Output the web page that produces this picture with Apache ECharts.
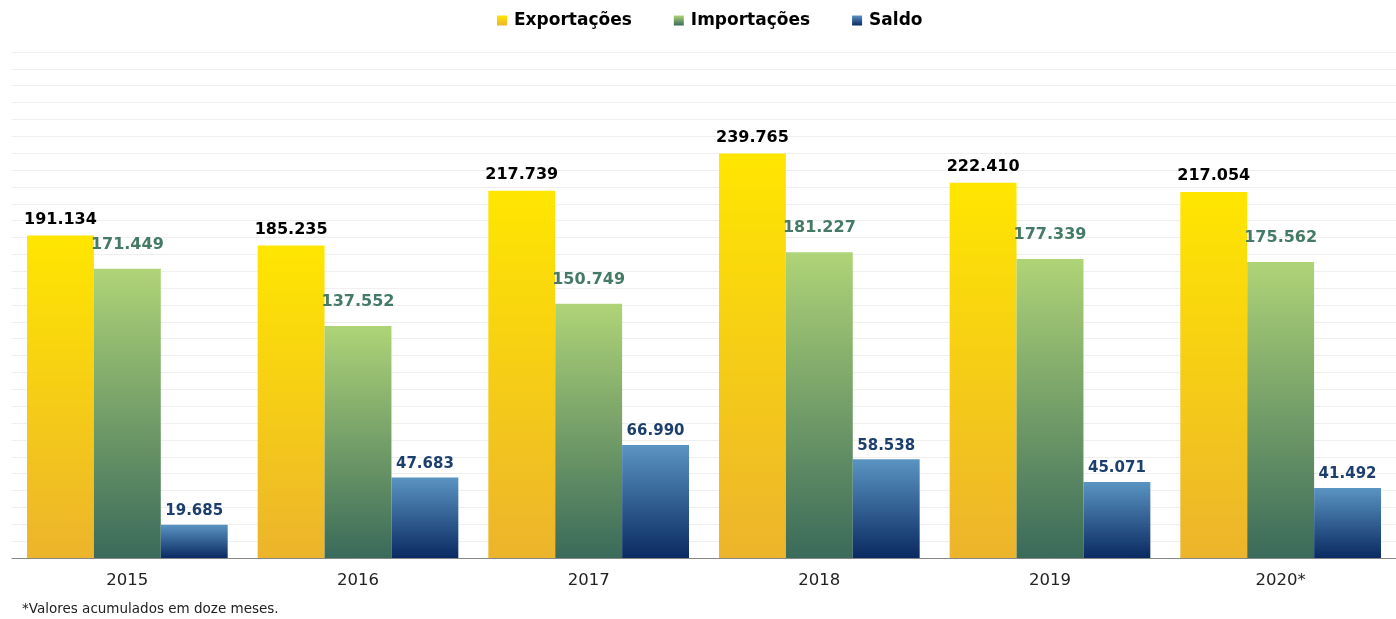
<!DOCTYPE html>
<html>
<head>
<meta charset="utf-8">
<script src="https://cdn.jsdelivr.net/npm/echarts@6/dist/echarts.min.js"></script>
<style>
  html, body {margin: 0; padding: 0; background: #fff;}
  #chart {width: 1396px; height: 619px;}
</style>
</head>
<body>
<div id="chart"></div>
<script>
const anos = ['2015', '2016', '2017', '2018', '2019', '2020*'];
const exportacoes = [191.134, 185.235, 217.739, 239.765, 222.410, 217.054];
const importacoes = [171.449, 137.552, 150.749, 181.227, 177.339, 175.562];
const saldo = [19.685, 47.683, 66.990, 58.538, 45.071, 41.492];

const FONT = 'DejaVu Sans, Liberation Sans, Arial, sans-serif';

const grad = (top, bottom) => new echarts.graphic.LinearGradient(0, 0, 0, 1, [
    {offset: 0, color: top},
    {offset: 1, color: bottom}
]);

const fmt = p => p.value.toFixed(3);

const myChart = echarts.init(document.getElementById('chart'));
const option = {
    animation: false,
    textStyle: {fontFamily: FONT},
    legend: {
        top: 7,
        left: 492,
        itemWidth: 10,
        itemHeight: 10,
        itemGap: 42,
        icon: 'rect',
        textStyle: {fontSize: 17, fontWeight: 'bold', color: '#000', fontFamily: FONT,
            padding: [0, 0, 0, 2]},
        data: ['Exportações', 'Importações', 'Saldo']
    },
    grid: {left: 12, right: 0, top: 52, bottom: 61},
    xAxis: {
        type: 'category',
        data: anos,
        axisLine: {lineStyle: {color: '#888', width: 1}},
        axisTick: {show: false},
        axisLabel: {fontSize: 16.5, color: '#222', margin: 14, fontFamily: FONT}
    },
    yAxis: {
        type: 'value',
        min: 0,
        max: 300,
        interval: 10,
        axisLabel: {show: false},
        axisLine: {show: false},
        axisTick: {show: false},
        splitLine: {lineStyle: {color: '#efefef', width: 1}}
    },
    series: [
        {
            name: 'Exportações',
            type: 'bar',
            data: exportacoes,
            barGap: '0%',
            barCategoryGap: '13%',
            itemStyle: {color: grad('#ffe600', '#ecb42c')},
            label: {show: true, position: 'top', distance: 8, formatter: fmt,
                fontSize: 16, fontWeight: 'bold', color: '#000', fontFamily: FONT}
        },
        {
            name: 'Importações',
            type: 'bar',
            data: importacoes,
            itemStyle: {color: grad('#afd477', '#3a6a5a')},
            label: {show: true, position: 'top', distance: 16, formatter: fmt,
                fontSize: 16, fontWeight: 'bold', color: '#447a66', fontFamily: FONT}
        },
        {
            name: 'Saldo',
            type: 'bar',
            data: saldo,
            itemStyle: {color: grad('#5a94c2', '#0a2a62')},
            label: {show: true, position: 'top', distance: 6, formatter: fmt,
                fontSize: 15, fontWeight: 'bold', color: '#1d3f6e', fontFamily: FONT}
        }
    ],
    graphic: [{
        type: 'text',
        left: 22,
        top: 602,
        style: {
            text: '*Valores acumulados em doze meses.',
            fontSize: 13.5,
            fill: '#222',
            fontFamily: FONT
        }
    }]
};
myChart.setOption(option);
</script>
</body>
</html>
